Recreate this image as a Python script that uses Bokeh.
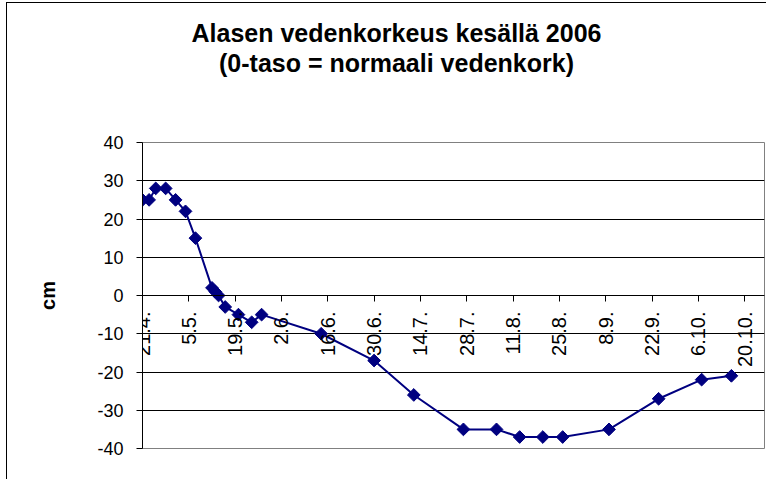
import numpy as np
import pandas as pd
from bokeh.plotting import figure
from bokeh.layouts import column
from bokeh.models import Range1d, FixedTicker, Div
from bokeh.embed import file_html
from bokeh.resources import INLINE

# ---- data ----
dates = ["2006-04-21", "2006-04-23", "2006-04-25", "2006-04-28", "2006-05-01",
         "2006-05-04", "2006-05-07", "2006-05-12", "2006-05-13", "2006-05-14",
         "2006-05-16", "2006-05-20", "2006-05-24", "2006-05-27", "2006-06-14",
         "2006-06-30", "2006-07-12", "2006-07-27", "2006-08-06", "2006-08-13",
         "2006-08-20", "2006-08-26", "2006-09-09", "2006-09-24", "2006-10-07",
         "2006-10-16"]
levels = [25, 25, 28, 28, 25, 22, 15, 2, 1, 0, -3, -5, -7, -5, -10,
          -17, -26, -35, -35, -37, -37, -37, -35, -27, -22, -21]

tick_dates = ["2006-04-21", "2006-05-05", "2006-05-19", "2006-06-02", "2006-06-16",
              "2006-06-30", "2006-07-14", "2006-07-28", "2006-08-11", "2006-08-25",
              "2006-09-08", "2006-09-22", "2006-10-06", "2006-10-20"]
tick_labels = ["21.4.", "5.5.", "19.5.", "2.6.", "16.6.", "30.6.", "14.7.", "28.7.",
               "11.8.", "25.8.", "8.9.", "22.9.", "6.10.", "20.10."]
y_ticks = [-40, -30, -20, -10, 0, 10, 20, 30, 40]
y_tick_labels = ["-40", "-30", "-20", "-10", "0", "10", "20", "30", "40"]

X_START = "2006-04-21"
X_END = "2006-10-26"
Y_START, Y_END = -40, 40

title_lines = ["Alasen vedenkorkeus kesällä 2006", "(0-taso = normaali vedenkork)"]
y_label = "cm"

FONT = "Liberation Sans"
NAVY = "#000080"

x = pd.to_datetime(dates)
tick_ms = [int(pd.Timestamp(d).value // 10**6) for d in tick_dates]

# ---- title block (HTML text above the plot) ----
title_html = (
    '<div style="display: block; box-sizing: content-box; width: 739px; '
    'font-family: \'Liberation Sans\', Arial, sans-serif; font-size: 25px; '
    'font-weight: bold; line-height: 30px; color: black; text-align: center; '
    'padding-top: 15px; padding-left: 20px; margin: 0;">'
    + "<br>".join(title_lines) + "</div>"
)
title_div = Div(text=title_html, width=759, height=119, margin=0)

# ---- plot ----
p = figure(width=759, height=357, x_axis_type="datetime",
           output_backend="svg", toolbar_location=None,
           x_range=Range1d(pd.Timestamp(X_START), pd.Timestamp(X_END)),
           y_range=Range1d(Y_START, Y_END),
           min_border_left=135, min_border_right=2,
           min_border_top=20, min_border_bottom=31)
p.margin = 0

p.background_fill_color = "white"
p.border_fill_color = "white"
p.outline_line_color = "#808080"
p.outline_line_width = 1

# grid
p.xgrid.visible = False
p.ygrid.ticker = FixedTicker(ticks=y_ticks)
p.ygrid.grid_line_color = "black"
p.ygrid.grid_line_width = 1

# y axis
yax = p.yaxis[0]
yax.ticker = FixedTicker(ticks=y_ticks)
yax.major_label_overrides = dict(zip(y_ticks, y_tick_labels))
yax.axis_line_color = "black"
yax.major_tick_line_color = "black"
yax.major_tick_out = 6
yax.major_tick_in = 0
yax.minor_tick_line_color = None
yax.major_label_standoff = 13
yax.major_label_text_font = FONT
yax.major_label_text_font_size = "18px"
yax.major_label_text_color = "black"
yax.axis_label = y_label
yax.axis_label_text_font = FONT
yax.axis_label_text_font_size = "20px"
yax.axis_label_text_font_style = "bold"
yax.axis_label_text_color = "black"
yax.axis_label_standoff = 35

# x axis crossing at zero
xax = p.xaxis[0]
xax.fixed_location = 0
xax.ticker = FixedTicker(ticks=tick_ms)
xax.major_label_overrides = dict(zip(tick_ms, tick_labels))
xax.major_label_orientation = np.pi / 2
xax.axis_line_color = "black"
xax.major_tick_line_color = "black"
xax.major_tick_out = 6
xax.major_tick_in = 0
xax.minor_tick_line_color = None
xax.major_label_standoff = 10
xax.major_label_text_font = FONT
xax.major_label_text_font_size = "20px"
xax.major_label_text_color = "black"

# series
p.line(x, levels, line_color=NAVY, line_width=2)
p.scatter(x, levels, marker="square", angle=np.pi / 4, size=9,
          fill_color=NAVY, line_color=NAVY)

layout = column(title_div, p, spacing=0)
# chart-area border (left/top visible; right/bottom lie outside the window)
layout.styles = {"margin-left": "6px", "margin-top": "2px",
                 "border-left": "1px solid black", "border-top": "1px solid black",
                 "background-color": "white"}

open("out.html", "w").write(file_html(layout, INLINE))
